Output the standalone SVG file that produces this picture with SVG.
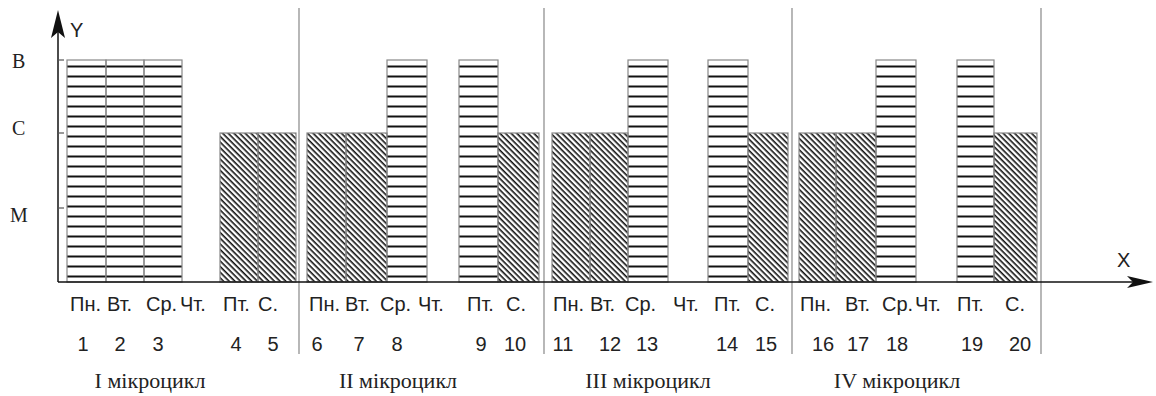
<svg xmlns="http://www.w3.org/2000/svg" width="1156" height="396" viewBox="0 0 1156 396">
  <defs>
    <pattern id="stripes" patternUnits="userSpaceOnUse" x="0" y="0" width="10" height="10">
      <rect x="0" y="5.5" width="10" height="2" fill="#111"/>
    </pattern>
    <pattern id="hatch" patternUnits="userSpaceOnUse" width="8" height="4" patternTransform="rotate(45)">
      <rect x="0" y="0" width="8" height="1.6" fill="#111"/>
    </pattern>
  </defs>
  <style>
    .bg { fill: #ffffff; }
    .hi { fill: url(#stripes); stroke: #888; stroke-width: 1.2; }
    .mid { fill: url(#hatch); stroke: #888; stroke-width: 1.2; }
    .div { stroke: #888; stroke-width: 1.2; fill: none; }
    .axis { stroke: #111; stroke-width: 1.5; fill: none; }
    .tick { stroke: #555; stroke-width: 1.2; }
    .head { fill: #111; }
    .lvl { font-family: "Liberation Serif", "Times New Roman", serif; font-size: 20px; fill: #222; }
    .day { font-family: "Liberation Sans", Arial, sans-serif; font-size: 20px; fill: #222; }
    .num { font-family: "Liberation Sans", Arial, sans-serif; font-size: 20px; fill: #222; text-anchor: middle; }
    .mc { font-family: "Liberation Serif", "Times New Roman", serif; font-size: 22px; fill: #222; text-anchor: middle; }
    .ax { font-family: "Liberation Sans", Arial, sans-serif; font-size: 20px; fill: #222; }
  </style>
  <rect class="bg" x="0" y="0" width="1156" height="396"/>

  <g id="dividers">
    <line class="div" x1="299" y1="8" x2="299" y2="354"/>
    <line class="div" x1="544" y1="8" x2="544" y2="354"/>
    <line class="div" x1="792" y1="8" x2="792" y2="354"/>
    <line class="div" x1="1041" y1="8" x2="1041" y2="354"/>
  </g>

  <g id="bars">
    <g id="bar1"><rect class="hi" x="67" y="60" width="39" height="222"/></g>
    <g id="bar2"><rect class="hi" x="106" y="60" width="38" height="222"/></g>
    <g id="bar3"><rect class="hi" x="144" y="60" width="38" height="222"/></g>
    <g id="bar4"><rect class="mid" x="220" y="133" width="38" height="149"/></g>
    <g id="bar5"><rect class="mid" x="258" y="133" width="38" height="149"/></g>
    <g id="bar6"><rect class="mid" x="307" y="133" width="39" height="149"/></g>
    <g id="bar7"><rect class="mid" x="346" y="133" width="41" height="149"/></g>
    <g id="bar8"><rect class="hi" x="387" y="60" width="40" height="222"/></g>
    <g id="bar9"><rect class="hi" x="459" y="60" width="39" height="222"/></g>
    <g id="bar10"><rect class="mid" x="498" y="133" width="41" height="149"/></g>
    <g id="bar11"><rect class="mid" x="552" y="133" width="38" height="149"/></g>
    <g id="bar12"><rect class="mid" x="590" y="133" width="38" height="149"/></g>
    <g id="bar13"><rect class="hi" x="628" y="60" width="40" height="222"/></g>
    <g id="bar14"><rect class="hi" x="708" y="60" width="40" height="222"/></g>
    <g id="bar15"><rect class="mid" x="748" y="133" width="40" height="149"/></g>
    <g id="bar16"><rect class="mid" x="799" y="133" width="37" height="149"/></g>
    <g id="bar17"><rect class="mid" x="836" y="133" width="40" height="149"/></g>
    <g id="bar18"><rect class="hi" x="876" y="60" width="40" height="222"/></g>
    <g id="bar19"><rect class="hi" x="957" y="60" width="37" height="222"/></g>
    <g id="bar20"><rect class="mid" x="994" y="133" width="43" height="149"/></g>
  </g>

  <g id="axes">
    <line class="axis" x1="58" y1="282" x2="58" y2="28"/>
    <line class="axis" x1="58" y1="282" x2="1136" y2="282"/>
    <path class="head" d="M58,10 L65,38 L58,32 L51,38 Z"/>
    <path class="head" d="M1153,282 L1127,276 L1133,282 L1127,288 Z"/>
    <line class="tick" x1="58" y1="60" x2="64" y2="60"/>
    <line class="tick" x1="58" y1="133" x2="64" y2="133"/>
    <line class="tick" x1="58" y1="208" x2="64" y2="208"/>
    <text class="ax" x="70" y="37">Y</text>
    <text class="ax" x="1117" y="267">X</text>
  </g>

  <g id="levels">
    <text class="lvl" x="12" y="68">В</text>
    <text class="lvl" x="12" y="135">С</text>
    <text class="lvl" x="10" y="222">М</text>
  </g>

  <g id="micro1">
    <text class="day" x="70" y="311">Пн.</text>
    <text class="day" x="107" y="311">Вт.</text>
    <text class="day" x="146" y="311">Ср.</text>
    <text class="day" x="180" y="311">Чт.</text>
    <text class="day" x="223" y="311">Пт.</text>
    <text class="day" x="258" y="311">С.</text>
    <text class="num" x="83" y="351">1</text>
    <text class="num" x="120" y="351">2</text>
    <text class="num" x="158" y="351">3</text>
    <text class="num" x="236" y="351">4</text>
    <text class="num" x="273" y="351">5</text>
    <text class="mc" x="150" y="388">I мікроцикл</text>
  </g>

  <g id="micro2">
    <text class="day" x="309" y="311">Пн.</text>
    <text class="day" x="345" y="311">Вт.</text>
    <text class="day" x="380" y="311">Ср.</text>
    <text class="day" x="418" y="311">Чт.</text>
    <text class="day" x="467" y="311">Пт.</text>
    <text class="day" x="506" y="311">С.</text>
    <text class="num" x="317" y="351">6</text>
    <text class="num" x="359" y="351">7</text>
    <text class="num" x="397" y="351">8</text>
    <text class="num" x="481" y="351">9</text>
    <text class="num" x="515" y="351">10</text>
    <text class="mc" x="398" y="388">II мікроцикл</text>
  </g>

  <g id="micro3">
    <text class="day" x="553" y="311">Пн.</text>
    <text class="day" x="590" y="311">Вт.</text>
    <text class="day" x="625" y="311">Ср.</text>
    <text class="day" x="673" y="311">Чт.</text>
    <text class="day" x="714" y="311">Пт.</text>
    <text class="day" x="755" y="311">С.</text>
    <text class="num" x="563" y="351">11</text>
    <text class="num" x="610" y="351">12</text>
    <text class="num" x="647" y="351">13</text>
    <text class="num" x="727" y="351">14</text>
    <text class="num" x="766" y="351">15</text>
    <text class="mc" x="648" y="388">III мікроцикл</text>
  </g>

  <g id="micro4">
    <text class="day" x="800" y="311">Пн.</text>
    <text class="day" x="845" y="311">Вт.</text>
    <text class="day" x="882" y="311">Ср.</text>
    <text class="day" x="915" y="311">Чт.</text>
    <text class="day" x="957" y="311">Пт.</text>
    <text class="day" x="1005" y="311">С.</text>
    <text class="num" x="823" y="351">16</text>
    <text class="num" x="858" y="351">17</text>
    <text class="num" x="897" y="351">18</text>
    <text class="num" x="972" y="351">19</text>
    <text class="num" x="1020" y="351">20</text>
    <text class="mc" x="897" y="388">IV мікроцикл</text>
  </g>
</svg>
